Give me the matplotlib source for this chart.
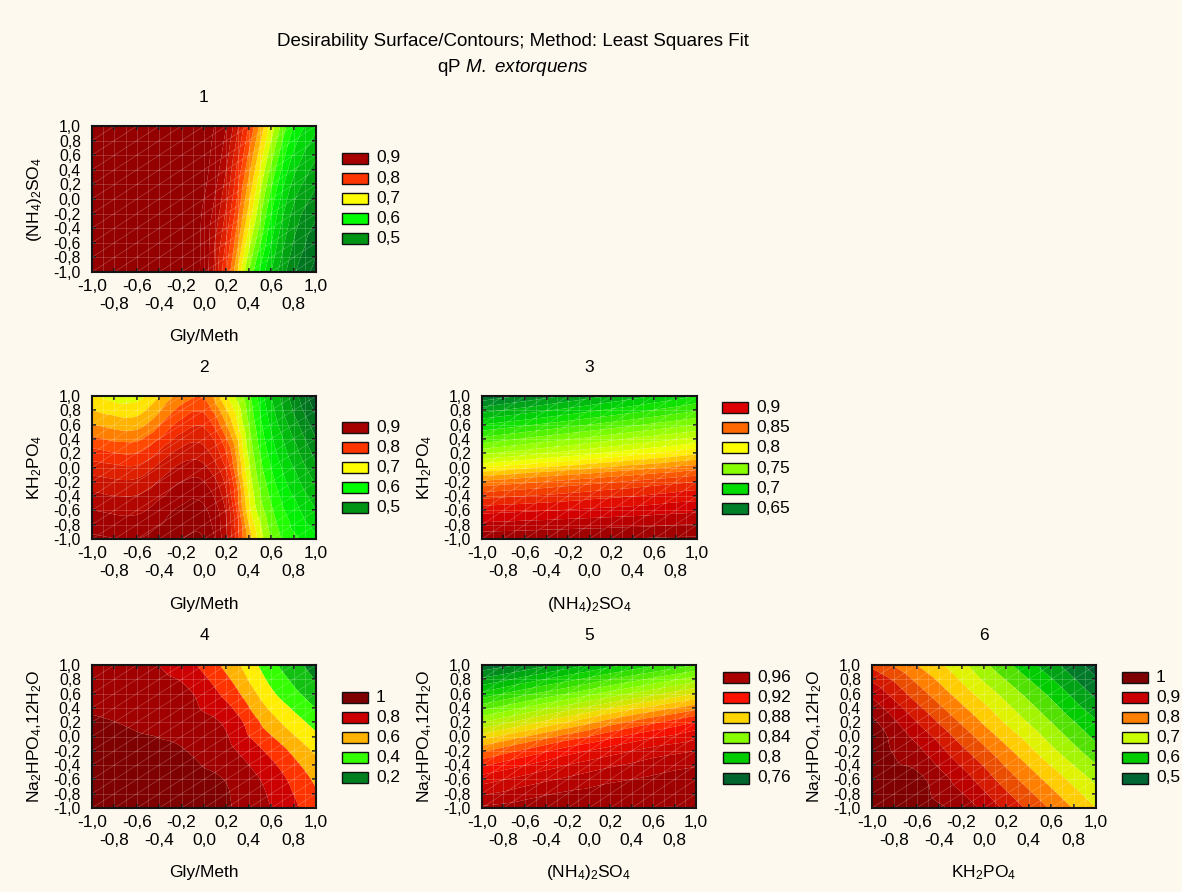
import numpy as np
import matplotlib
matplotlib.use("Agg")
import matplotlib.pyplot as plt
import matplotlib.tri as mtri
from matplotlib.colors import LinearSegmentedColormap, Normalize
from matplotlib.collections import LineCollection
from matplotlib.patches import Rectangle
from matplotlib.ticker import FixedLocator, FuncFormatter

plt.rcParams['font.family'] = ['Liberation Sans', 'DejaVu Sans']
plt.rcParams['mathtext.fontset'] = 'custom'
plt.rcParams['mathtext.rm'] = 'Liberation Sans'
plt.rcParams['mathtext.it'] = 'Liberation Sans:italic'
plt.rcParams['mathtext.default'] = 'regular'

# ---------------------------------------------------------------- factors
GLY = "Gly/Meth"
NH4 = r"(NH$_4$)$_2$SO$_4$"
KH2 = r"KH$_2$PO$_4$"
NA2 = r"Na$_2$HPO$_4$,12H$_2$O"

coded = [-1.0, -0.6, -0.2, 0.2, 0.6, 1.0]

# ---------------------------------------------------------------- desirability grids
# rows: second factor from -1 to 1, columns: first factor from -1 to 1

# 1: Gly/Meth x (NH4)2SO4
x_1 = [-1.0, -0.5, 0.0, 0.2, 0.4, 0.6, 0.8, 1.0]
y_1 = [-1.0, 0.0, 1.0]
d_1 = [
    [0.930, 0.935, 0.915, 0.800, 0.650, 0.550, 0.480, 0.440],
    [0.930, 0.935, 0.925, 0.855, 0.730, 0.615, 0.530, 0.490],
    [0.930, 0.935, 0.935, 0.900, 0.800, 0.690, 0.600, 0.555],
]

# 2: Gly/Meth x KH2PO4
x_2 = [-1.0, -0.6, -0.2, 0.0, 0.2, 0.4, 0.6, 1.0]
y_2 = coded
d_2 = [
    [0.930, 0.925, 0.950, 0.950, 0.880, 0.740, 0.650, 0.580],
    [0.900, 0.895, 0.930, 0.930, 0.870, 0.710, 0.630, 0.550],
    [0.860, 0.855, 0.900, 0.900, 0.840, 0.690, 0.610, 0.520],
    [0.810, 0.800, 0.860, 0.860, 0.800, 0.670, 0.590, 0.490],
    [0.750, 0.740, 0.810, 0.820, 0.750, 0.650, 0.570, 0.460],
    [0.700, 0.690, 0.760, 0.770, 0.700, 0.630, 0.550, 0.430],
]

# 3: (NH4)2SO4 x KH2PO4
x_3 = coded
y_3 = coded
d_3 = [
    [0.935, 0.936, 0.937, 0.938, 0.939, 0.940],
    [0.895, 0.898, 0.901, 0.904, 0.907, 0.910],
    [0.840, 0.847, 0.854, 0.861, 0.868, 0.875],
    [0.760, 0.770, 0.780, 0.790, 0.800, 0.810],
    [0.700, 0.710, 0.720, 0.730, 0.740, 0.750],
    [0.640, 0.652, 0.664, 0.676, 0.688, 0.700],
]

# 4: Gly/Meth x Na2HPO4,12H2O
x_4 = coded
y_4 = coded
d_4 = [
    [1.000, 1.000, 0.990, 0.960, 0.850, 0.690],
    [1.000, 1.000, 0.980, 0.945, 0.810, 0.630],
    [0.980, 0.970, 0.955, 0.880, 0.720, 0.530],
    [0.960, 0.940, 0.910, 0.830, 0.590, 0.410],
    [0.920, 0.910, 0.880, 0.720, 0.470, 0.290],
    [0.900, 0.880, 0.800, 0.620, 0.380, 0.200],
]

# 5: (NH4)2SO4 x Na2HPO4,12H2O
x_5 = coded
y_5 = coded
d_5 = [
    [0.962, 0.966, 0.970, 0.970, 0.970, 0.970],
    [0.935, 0.944, 0.952, 0.958, 0.962, 0.965],
    [0.898, 0.912, 0.925, 0.935, 0.944, 0.950],
    [0.850, 0.865, 0.880, 0.895, 0.908, 0.920],
    [0.803, 0.817, 0.830, 0.844, 0.857, 0.870],
    [0.762, 0.772, 0.784, 0.796, 0.808, 0.820],
]

# 6: KH2PO4 x Na2HPO4,12H2O
x_6 = coded
y_6 = coded
d_6 = [
    [1.000, 1.000, 0.965, 0.890, 0.815, 0.740],
    [1.000, 0.990, 0.920, 0.840, 0.765, 0.690],
    [1.000, 0.950, 0.870, 0.790, 0.710, 0.635],
    [0.990, 0.900, 0.815, 0.735, 0.660, 0.585],
    [0.930, 0.840, 0.760, 0.685, 0.610, 0.530],
    [0.850, 0.780, 0.710, 0.630, 0.555, 0.480],
]

# legend levels of each panel
keys_1 = [0.9, 0.8, 0.7, 0.6, 0.5]
keys_2 = [0.9, 0.8, 0.7, 0.6, 0.5]
keys_3 = [0.9, 0.85, 0.8, 0.75, 0.7, 0.65]
keys_4 = [1.0, 0.8, 0.6, 0.4, 0.2]
keys_5 = [0.96, 0.92, 0.88, 0.84, 0.8, 0.76]
keys_6 = [1.0, 0.9, 0.8, 0.7, 0.6, 0.5]

# ---------------------------------------------------------------- styling
BG = "#FDF9EE"
W, H = 1182, 892

ramp_1 = [(0.42, "#00542A"), (0.5, "#009414"), (0.6, "#00FF00"), (0.7, "#FFFF00"),
          (0.8, "#FF3300"), (0.9, "#A80000"), (0.97, "#820000")]
ramp_3 = [(0.60, "#005428"), (0.65, "#00802A"), (0.7, "#00DD00"), (0.75, "#88FF00"),
          (0.8, "#FFFF00"), (0.85, "#FF6600"), (0.9, "#DD0000"), (0.95, "#800000")]
ramp_4 = [(0.15, "#005A20"), (0.2, "#007F1F"), (0.3, "#12C012"), (0.4, "#33FF00"),
          (0.45, "#B0FF00"), (0.5, "#FFEE00"), (0.6, "#FFB300"), (0.7, "#FF3300"),
          (0.8, "#CC0000"), (0.9, "#A00000"), (1.0, "#7F0000")]
ramp_5 = [(0.74, "#00542A"), (0.76, "#00662E"), (0.8, "#00CC00"), (0.84, "#88FF00"),
          (0.88, "#FFD700"), (0.92, "#FF1100"), (0.96, "#AA0000"), (0.98, "#820000")]
ramp_6 = [(0.44, "#004D26"), (0.5, "#006633"), (0.6, "#00CC00"), (0.7, "#CCFF00"),
          (0.75, "#FFE000"), (0.8, "#FF8000"), (0.9, "#CC0000"), (1.0, "#7F0000")]

panels = [
    dict(num="1", xl=GLY, yl=NH4, x=x_1, y=y_1, z=d_1, keys=keys_1, ramp=ramp_1,
         bands=(0.40, 1.0, 0.025), rect=(92, 126, 316, 272), key=(342, 158)),
    dict(num="2", xl=GLY, yl=KH2, x=x_2, y=y_2, z=d_2, keys=keys_2, ramp=ramp_1,
         bands=(0.40, 1.0, 0.025), rect=(92, 396, 316, 539), key=(342, 427)),
    dict(num="3", xl=NH4, yl=KH2, x=x_3, y=y_3, z=d_3, keys=keys_3, ramp=ramp_3,
         bands=(0.60, 0.95, 0.0125), rect=(482, 396, 697, 539), key=(722, 407.5)),
    dict(num="4", xl=GLY, yl=NA2, x=x_4, y=y_4, z=d_4, keys=keys_4, ramp=ramp_4,
         bands=(0.15, 1.06, 0.1), rect=(92, 665, 316, 808), key=(342, 697)),
    dict(num="5", xl=NH4, yl=NA2, x=x_5, y=y_5, z=d_5, keys=keys_5, ramp=ramp_5,
         bands=(0.74, 0.98, 0.01), rect=(482, 665, 696, 808), key=(723, 677)),
    dict(num="6", xl=KH2, yl=NA2, x=x_6, y=y_6, z=d_6, keys=keys_6, ramp=ramp_6,
         bands=(0.46, 1.03, 0.04), rect=(872, 665, 1096, 808), key=(1122, 677)),
]


def make_ramp(stops):
    lo, hi = stops[0][0], stops[-1][0]
    cmap = LinearSegmentedColormap.from_list(
        "ramp", [((v - lo) / (hi - lo), c) for v, c in stops])
    return cmap, Normalize(lo, hi)


def comma(v, pos=None):
    s = f"{v:.1f}".replace(".", ",")
    return "0,0" if s == "-0,0" else s


def key_label(v):
    return f"{v:g}".replace(".", ",")


fig = plt.figure(figsize=(W / 100, H / 100), dpi=100, facecolor=BG)

fig.text(513 / W, 1 - 42 / H, "Desirability Surface/Contours; Method: Least Squares Fit",
         ha="center", va="center", fontsize=13.5)
fig.text(513 / W, 1 - 68 / H, r"qP $\mathit{M.\ extorquens}$",
         ha="center", va="center", fontsize=13.5)

# surface mesh drawn over each map
mesh = []
for i in range(21):
    mesh.append([(i / 20, 0), (i / 20, 1)])
for j in range(11):
    mesh.append([(0, j / 10), (1, j / 10)])
for j in range(10):
    for k in range(10):
        mesh.append([(k / 10, j / 10), ((k + 1) / 10, (j + 1) / 10)])

for p in panels:
    x0, y0, x1, y1 = p["rect"]
    ax = fig.add_axes([x0 / W, 1 - y1 / H, (x1 - x0) / W, (y1 - y0) / H])
    cmap, norm = make_ramp(p["ramp"])
    lo, hi, step = p["bands"]
    levels = np.arange(lo, hi + step / 2, step)

    gx, gy = np.meshgrid(p["x"], p["y"])
    zz = np.asarray(p["z"], dtype=float).ravel()
    tri = mtri.Triangulation(gx.ravel(), gy.ravel())
    interp = mtri.CubicTriInterpolator(tri, zz, kind="geom")
    tri_f, z_f = mtri.UniformTriRefiner(tri).refine_field(zz, triinterpolator=interp,
                                                          subdiv=4)
    ax.tricontourf(tri_f, z_f, levels=levels, cmap=cmap, norm=norm, extend="both",
                   antialiased=True)

    ax.add_collection(LineCollection(mesh, colors="white", linewidths=0.5, alpha=0.26,
                                     transform=ax.transAxes))

    ax.set_xlim(-1, 1)
    ax.set_ylim(-1, 1)
    ax.set_facecolor(BG)
    ax.xaxis.set_major_locator(FixedLocator([-1.0, -0.6, -0.2, 0.2, 0.6, 1.0]))
    ax.xaxis.set_minor_locator(FixedLocator([-0.8, -0.4, 0.0, 0.4, 0.8]))
    ax.yaxis.set_major_locator(FixedLocator(np.round(np.arange(-1.0, 1.01, 0.2), 1)))
    ax.xaxis.set_major_formatter(FuncFormatter(comma))
    ax.xaxis.set_minor_formatter(FuncFormatter(comma))
    ax.yaxis.set_major_formatter(FuncFormatter(comma))
    ax.tick_params(which="both", direction="in", length=3, width=1.1, color="#111111",
                   top=True, right=True)
    ax.tick_params(axis="x", which="major", labelsize=12.5, pad=5)
    ax.tick_params(axis="x", which="minor", labelsize=12.5, pad=18)
    ax.tick_params(axis="y", labelsize=11.3, pad=8)
    for s in ax.spines.values():
        s.set_linewidth(1.5)
        s.set_color("#141414")

    w_px, h_px = x1 - x0, y1 - y0
    ax.set_xlabel(p["xl"], fontsize=12.5, va="center")
    ax.xaxis.set_label_coords(0.5, -65 / h_px)
    ax.set_ylabel(p["yl"], fontsize=12.5, va="center")
    ax.yaxis.set_label_coords(-57 / w_px, 0.5)

    fig.text((x0 + x1) / 2 / W, 1 - (y0 - 29) / H, p["num"], ha="center", va="center",
             fontsize=12.5)

    kx, ky = p["key"]
    for i, v in enumerate(p["keys"]):
        yc = ky + i * 20.2
        fig.add_artist(Rectangle((kx / W, 1 - (yc + 5.5) / H), 26 / W, 11 / H,
                                 transform=fig.transFigure, facecolor=cmap(norm(v)),
                                 edgecolor="#111111", linewidth=1.0))
        fig.text((kx + 34) / W, 1 - yc / H, key_label(v), ha="left", va="center",
                 fontsize=12.5)

fig.savefig("out.png", dpi=100, facecolor=BG)
